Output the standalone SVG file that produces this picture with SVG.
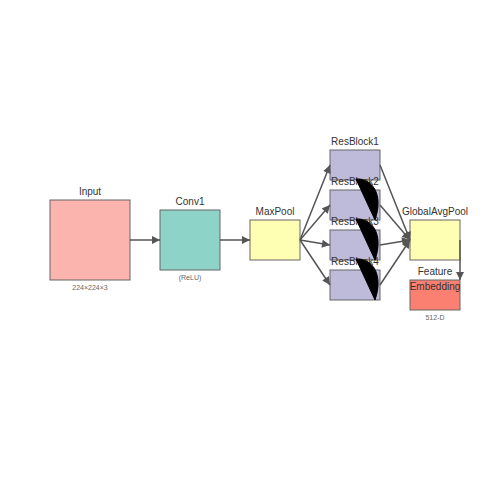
<svg xmlns="http://www.w3.org/2000/svg" width="500" height="500" viewBox="0 0 500 500">
<defs>
<marker id="ah" viewBox="0 0 10 10" refX="10" refY="5" markerWidth="9" markerHeight="8" orient="auto" markerUnits="userSpaceOnUse">
<path d="M0,0 L10,5 L0,10 z" fill="#555"/>
</marker>
<style>
.n{stroke:#666;stroke-width:1}
.t{font-family:"Liberation Sans",Arial,sans-serif;font-size:10px;fill:#333;text-anchor:middle}
.s{font-family:"Liberation Sans",Arial,sans-serif;font-size:7px;fill:#666;text-anchor:middle}
.c{stroke:#555;stroke-width:1.5;fill:none;marker-end:url(#ah)}
.k{fill:#000;stroke:#000;stroke-width:1}
</style>
</defs>
<rect width="500" height="500" fill="#fff"/>
<g id="input"><rect class="n" x="50" y="200" width="80" height="80" fill="#fbb4ae"/><text class="t" x="90" y="195">Input</text><text class="s" x="90" y="290">224×224×3</text></g>
<g id="conv1"><rect class="n" x="160" y="210" width="60" height="60" fill="#8dd3c7"/><text class="t" x="190" y="205">Conv1</text><text class="s" x="190" y="280">(ReLU)</text></g>
<g id="maxpool"><rect class="n" x="250" y="220" width="50" height="40" fill="#ffffb3"/><text class="t" x="275" y="215">MaxPool</text></g>
<g id="resblock1"><rect class="n" x="330" y="150" width="50" height="30" fill="#bebada"/><text class="t" x="355" y="145">ResBlock1</text></g>
<g id="resblock2"><rect class="n" x="330" y="190" width="50" height="30" fill="#bebada"/><text class="t" x="355" y="185">ResBlock2</text></g>
<g id="resblock3"><rect class="n" x="330" y="230" width="50" height="30" fill="#bebada"/><text class="t" x="355" y="225">ResBlock3</text></g>
<g id="resblock4"><rect class="n" x="330" y="270" width="50" height="30" fill="#bebada"/><text class="t" x="355" y="265">ResBlock4</text></g>
<g id="gap"><rect class="n" x="410" y="220" width="50" height="40" fill="#ffffb3"/><text class="t" x="435" y="215">GlobalAvgPool</text></g>
<g id="embedding"><rect class="n" x="410" y="280" width="50" height="30" fill="#fb8072"/><text class="t" x="435" y="275">Feature</text><text class="t" x="435" y="290">Embedding</text><text class="s" x="435" y="320">512-D</text></g>
<g id="connectors">
<line class="c" x1="130" y1="240" x2="160" y2="240"/>
<line class="c" x1="220" y1="240" x2="250" y2="240"/>
<line class="c" x1="300" y1="240" x2="330" y2="165"/>
<line class="c" x1="300" y1="240" x2="330" y2="205"/>
<line class="c" x1="300" y1="240" x2="330" y2="245"/>
<line class="c" x1="300" y1="240" x2="330" y2="285"/>
<line class="c" x1="380" y1="165" x2="410" y2="240"/>
<line class="c" x1="380" y1="205" x2="410" y2="240"/>
<line class="c" x1="380" y1="245" x2="410" y2="240"/>
<line class="c" x1="380" y1="285" x2="410" y2="240"/>
<line class="c" x1="460" y1="240" x2="460" y2="280"/>
<path class="k" d="M356,179 C372,178 384,194 375,220 Z"/>
<path class="k" d="M356,219 C372,218 384,234 375,260 Z"/>
<path class="k" d="M356,259 C372,258 384,274 375,300 Z"/>
</g>
</svg>
